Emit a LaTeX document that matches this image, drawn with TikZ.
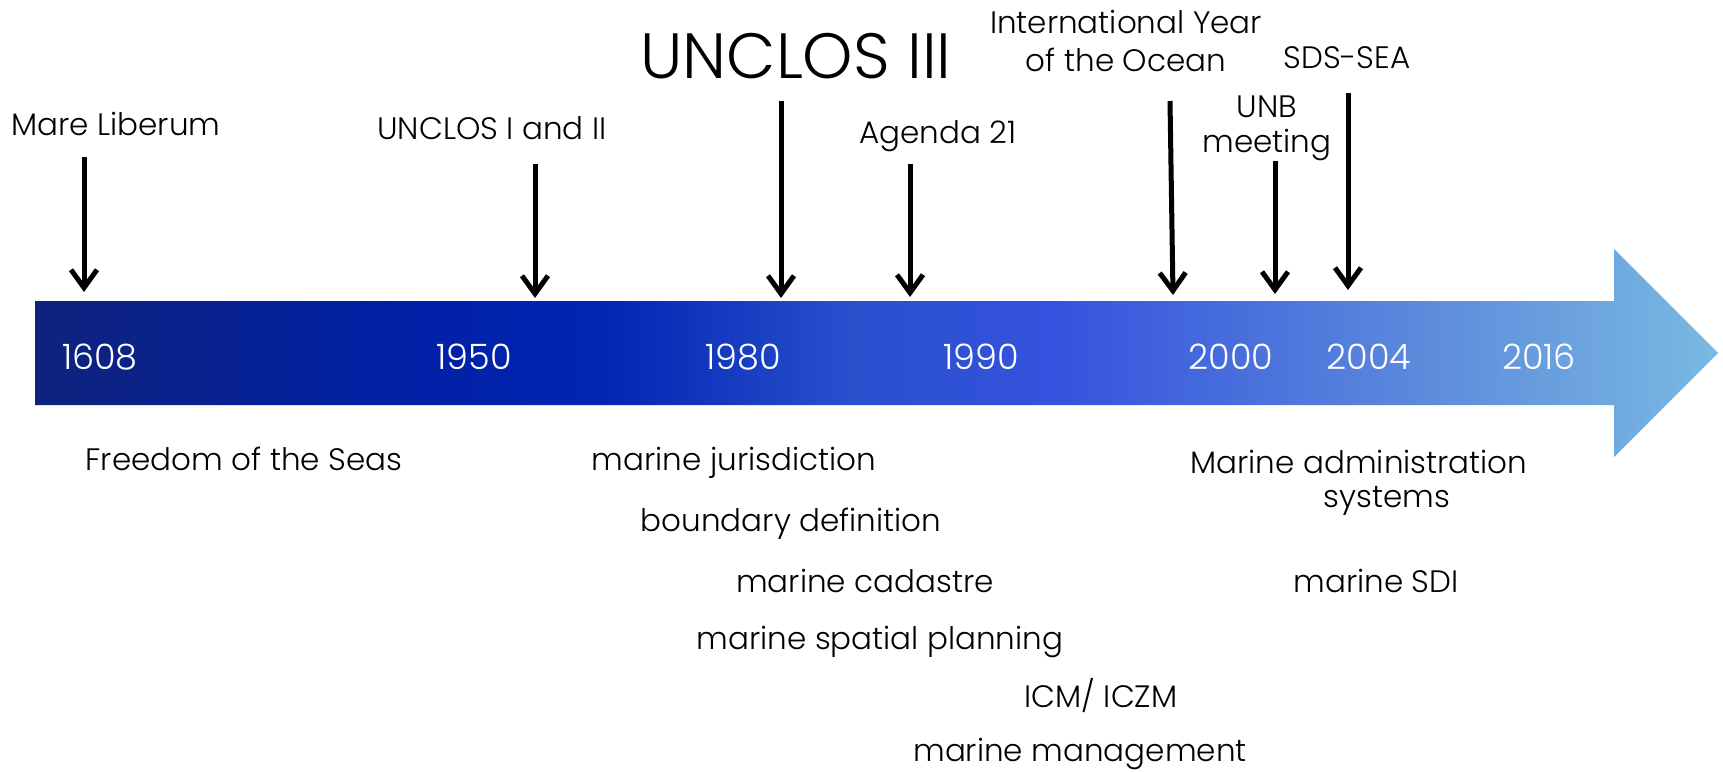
\documentclass[tikz,border=0pt]{standalone}
\usepackage{fontspec}
\setmainfont{Poppins}[UprightFont=* Light]
\usetikzlibrary{arrows.meta}
\definecolor{c0}{RGB}{15,35,125}
\definecolor{c1}{RGB}{0,32,165}
\definecolor{c2}{RGB}{2,36,178}
\definecolor{c3}{RGB}{40,80,205}
\definecolor{c4}{RGB}{52,82,222}
\definecolor{c5}{RGB}{90,135,220}
\definecolor{c6}{RGB}{122,185,225}
\pgfdeclarehorizontalshading{tlshade}{100bp}{color(0bp)=(c0); color(25bp)=(c0); color(35.8bp)=(c1); color(41.8bp)=(c2); color(49.2bp)=(c3); color(55.2bp)=(c4); color(65.6bp)=(c5); color(75bp)=(c6); color(100bp)=(c6)}
\begin{document}
\begin{tikzpicture}[x=1pt,y=-1pt,
  lbl/.style={anchor=base, inner sep=0pt, align=center, font=\fontsize{31}{36}\selectfont, text=black},
  yr/.style={anchor=base, inner sep=0pt, font=\fontsize{35}{40}\selectfont, text=white},
  evarrow/.style={line width=5pt, -{Straight Barb[length=18pt,width=26pt]}}]
\useasboundingbox (0,0) rectangle (1723,771);
% timeline arrow
\shade[shading=tlshade] (35,301) -- (1614,301) -- (1614,249) -- (1718,353) -- (1614,457) -- (1614,405) -- (35,405) -- cycle;
% years
\node[yr] (y1608) at (100,369) {1608};
\node[yr] (y1950) at (474,369) {1950};
\node[yr] (y1980) at (743,369) {1980};
\node[yr] (y1990) at (981,369) {1990};
\node[yr] (y2000) at (1231,369) {2000};
\node[yr] (y2004) at (1369,369) {2004};
\node[yr] (y2016) at (1539,369) {2016};
% events above
\node[lbl] (ml) at (116,135) {Mare Liberum};
\node[lbl] (u12) at (492,139) {UNCLOS I and II};
\node[lbl, font=\fontsize{64}{70}\selectfont] (u3) at (796,78) {UNCLOS III};
\node[lbl, font=\fontsize{31}{38}\selectfont] (iyo) at (1126,71) {International Year\\of the Ocean};
\node[lbl] (a21) at (938,143) {Agenda 21};
\node[lbl, font=\fontsize{31}{35}\selectfont] (unb) at (1267,152) {UNB\\meeting};
\node[lbl] (sds) at (1347,68) {SDS-SEA};
% event arrows
\coordinate (mlS) at (84,157);   \coordinate (mlE) at (84,292);
\coordinate (u12S) at (535,164); \coordinate (u12E) at (535,298);
\coordinate (u3S) at (781,101);  \coordinate (u3E) at (781,298);
\coordinate (a21S) at (910,164); \coordinate (a21E) at (910,297);
\coordinate (iyoS) at (1170,101); \coordinate (iyoE) at (1173,295);
\coordinate (unbS) at (1275,161); \coordinate (unbE) at (1275,294);
\coordinate (sdsS) at (1348,93); \coordinate (sdsE) at (1348,290);
\draw[evarrow] (mlS) -- (mlE);
\draw[evarrow] (u12S) -- (u12E);
\draw[evarrow] (u3S) -- (u3E);
\draw[evarrow] (a21S) -- (a21E);
\draw[evarrow] (iyoS) -- (iyoE);
\draw[evarrow] (unbS) -- (unbE);
\draw[evarrow] (sdsS) -- (sdsE);
% themes below
\node[lbl] (fots) at (244,470) {Freedom of the Seas};
\node[lbl] (mj) at (734,470) {marine jurisdiction};
\node[lbl] (bd) at (791,531) {boundary definition};
\node[lbl] (mc) at (865,592) {marine cadastre};
\node[lbl] (msp) at (880,649) {marine spatial planning};
\node[lbl] (icm) at (1101,707) {ICM/ ICZM};
\node[lbl] (mm) at (1080,761) {marine management};
\node[lbl, font=\fontsize{31}{34}\selectfont] (mas) at (1359,507) {Marine administration\\\hspace*{56pt}systems};
\node[lbl] (sdi) at (1376,592) {marine SDI};
\end{tikzpicture}
\end{document}
